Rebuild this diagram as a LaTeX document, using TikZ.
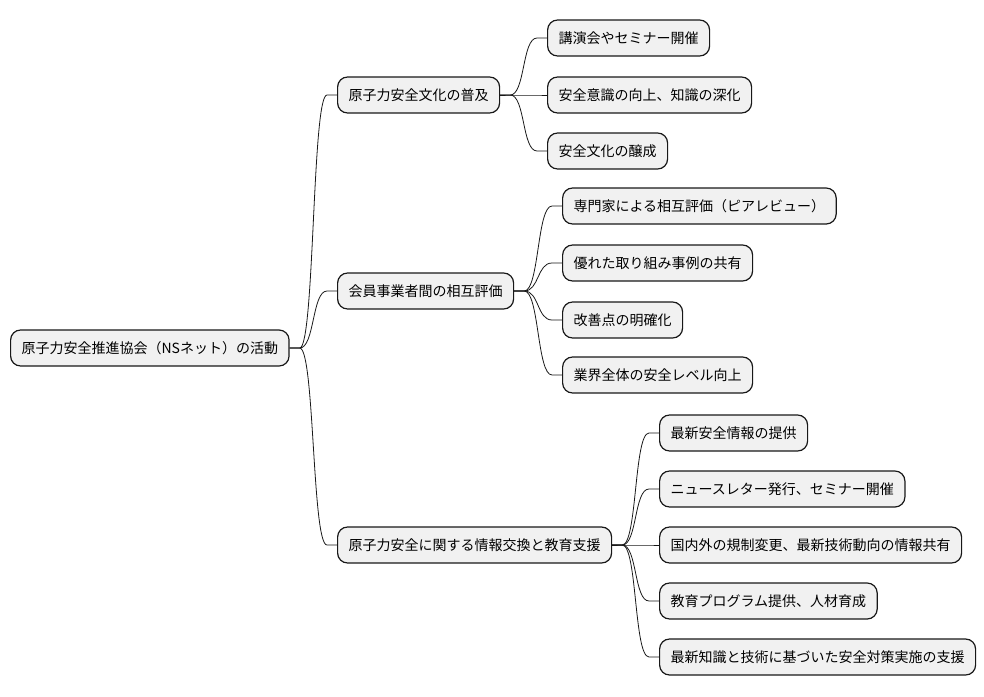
\documentclass[tikz,border=0pt]{standalone}
\usepackage{fontspec}
\setmainfont{Noto Sans CJK JP}
\usetikzlibrary{calc}
\definecolor{boxfill}{HTML}{F1F1F1}
\definecolor{boxline}{HTML}{181818}
\begin{document}
\begin{tikzpicture}[x=1pt,y=-1pt,
  box/.style={draw=boxline, line width=1.2pt, fill=boxfill, rounded corners=10pt,
    minimum height=36pt, inner xsep=11pt, inner ysep=0pt, anchor=west,
    font=\fontsize{14}{16}\selectfont},
  link/.style={draw=boxline, line width=0.8pt}]
\useasboundingbox (0,0) rectangle (984,696);
\node[box] (root) at (10,348) {原子力安全推進協会（NSネット）の活動};
\node[box] (a) at (337,95) {原子力安全文化の普及};
\node[box] (b) at (337,291) {会員事業者間の相互評価};
\node[box] (c) at (337,545) {原子力安全に関する情報交換と教育支援};
\node[box] (a1) at (547,38) {講演会やセミナー開催};
\node[box] (a2) at (547,95) {安全意識の向上、知識の深化};
\node[box] (a3) at (547,151) {安全文化の醸成};
\node[box] (b1) at (562,206) {専門家による相互評価（ピアレビュー）};
\node[box] (b2) at (562,263) {優れた取り組み事例の共有};
\node[box] (b3) at (562,320) {改善点の明確化};
\node[box] (b4) at (562,375) {業界全体の安全レベル向上};
\node[box] (c1) at (659,433) {最新安全情報の提供};
\node[box] (c2) at (659,489) {ニュースレター発行、セミナー開催};
\node[box] (c3) at (659,545) {国内外の規制変更、最新技術動向の情報共有};
\node[box] (c4) at (659,601) {教育プログラム提供、人材育成};
\node[box] (c5) at (659,657) {最新知識と技術に基づいた安全対策実施の支援};
\foreach \p/\q in {root/a,root/b,root/c,a/a1,a/a2,a/a3,b/b1,b/b2,b/b3,b/b4,c/c1,c/c2,c/c3,c/c4,c/c5}{
  \draw[link] (\p.east) -- ++(10,0) to[out=0,in=180,distance=15pt] ($(\q.west)+(-10,0)$) -- (\q.west);
}
\end{tikzpicture}
\end{document}
